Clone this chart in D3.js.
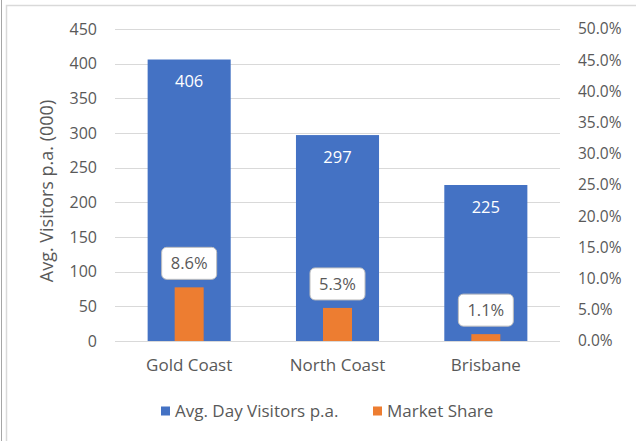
<!DOCTYPE html>
<html>
<head>
<meta charset="utf-8">
<script src="https://cdn.jsdelivr.net/npm/d3@7"></script>
<style>
  body { margin: 0; background: #fff; }
  text { font-family: "Open Sans", "Noto Sans", sans-serif; }
</style>
</head>
<body>
<script>
// Chart data
const regions = ["Gold Coast", "North Coast", "Brisbane"];
const dayVisitors = [406, 297, 225];        // thousands
const marketShare = [0.086, 0.053, 0.011];  // fraction
const leftTicks = [0, 50, 100, 150, 200, 250, 300, 350, 400, 450];
const rightTicks = [0, 0.05, 0.10, 0.15, 0.20, 0.25, 0.30, 0.35, 0.40, 0.45, 0.50];

const width = 636, height = 441;
const margin = { top: 29, right: 76, bottom: 100, left: 115 };
const plotWidth = width - margin.left - margin.right;
const plotHeight = height - margin.top - margin.bottom;

const textColor = "#595959";
const blue = "#4472c4", orange = "#ed7d31";

const svg = d3.select("body")
    .append("svg")
    .attr("width", width)
    .attr("height", height);

// Outer chart border (only top/left visible in frame)
svg.append("line").attr("x1", 1.5).attr("x2", 1.5).attr("y1", 0).attr("y2", height)
    .attr("stroke", "#a6a6a6").attr("stroke-width", 1);
svg.append("rect")
    .attr("x", 6.5).attr("y", 5.5)
    .attr("width", width).attr("height", height)
    .attr("fill", "none").attr("stroke", "#d9d9d9").attr("stroke-width", 1.5);

const g = svg.append("g")
    .attr("transform", `translate(${margin.left},${margin.top})`);

// Scales
const x = d3.scaleBand()
    .domain(regions)
    .range([0, plotWidth])
    .paddingInner(0.44)
    .paddingOuter(0.22);

const yLeft = d3.scaleLinear().domain([0, 450]).range([plotHeight, 0]);
const yRight = d3.scaleLinear().domain([0, 0.5]).range([plotHeight, 0]);

// Gridlines
g.append("g")
    .selectAll("line")
    .data(leftTicks)
    .join("line")
    .attr("x1", 0).attr("x2", plotWidth)
    .attr("y1", d => Math.round(yLeft(d)) + 0.5)
    .attr("y2", d => Math.round(yLeft(d)) + 0.5)
    .attr("stroke", "#d9d9d9")
    .attr("stroke-width", 1);

// Left axis
const leftAxis = g.append("g")
    .call(d3.axisLeft(yLeft).tickValues(leftTicks).tickSize(0).tickPadding(18));
leftAxis.select(".domain").remove();
leftAxis.selectAll("text")
    .attr("fill", textColor)
    .style("font-size", "16px");

// Right axis
const rightAxis = g.append("g")
    .attr("transform", `translate(${plotWidth},0)`)
    .call(d3.axisRight(yRight).tickValues(rightTicks).tickFormat(d3.format(".1%")).tickSize(0).tickPadding(18));
rightAxis.select(".domain").remove();
rightAxis.selectAll("text")
    .attr("fill", textColor)
    .style("font-size", "15.5px");

// Bottom category labels
const xAxis = g.append("g")
    .attr("transform", `translate(0,${plotHeight})`)
    .call(d3.axisBottom(x).tickSize(0).tickPadding(18));
xAxis.select(".domain").remove();
xAxis.selectAll("text")
    .attr("fill", textColor)
    .style("font-size", "17px");

// Left axis title
svg.append("text")
    .attr("transform", `translate(53,${margin.top + plotHeight / 2 + 6}) rotate(-90)`)
    .attr("text-anchor", "middle")
    .attr("fill", textColor)
    .style("font-size", "18px")
    .text("Avg. Visitors p.a. (000)");

// Blue bars
g.selectAll(".bar-visitors")
    .data(regions)
    .join("rect")
    .attr("class", "bar-visitors")
    .attr("x", d => x(d))
    .attr("width", x.bandwidth())
    .attr("y", (d, i) => yLeft(dayVisitors[i]))
    .attr("height", (d, i) => plotHeight - yLeft(dayVisitors[i]))
    .attr("fill", blue);

// Blue bar labels
g.selectAll(".lbl-visitors")
    .data(regions)
    .join("text")
    .attr("class", "lbl-visitors")
    .attr("x", d => x(d) + x.bandwidth() / 2)
    .attr("y", (d, i) => yLeft(dayVisitors[i]) + 22)
    .attr("dy", "0.35em")
    .attr("text-anchor", "middle")
    .attr("fill", "#fff")
    .style("font-size", "16.5px")
    .text((d, i) => dayVisitors[i]);

// Orange bars (secondary axis), narrower and centered
const orangeWidth = 29;
g.selectAll(".bar-share")
    .data(regions)
    .join("rect")
    .attr("class", "bar-share")
    .attr("x", d => x(d) + x.bandwidth() / 2 - orangeWidth / 2)
    .attr("width", orangeWidth)
    .attr("y", (d, i) => yRight(marketShare[i]))
    .attr("height", (d, i) => plotHeight - yRight(marketShare[i]))
    .attr("fill", orange);

// Market share callouts
const boxW = 55, boxH = 32;
const callouts = g.selectAll(".callout")
    .data(regions)
    .join("g")
    .attr("class", "callout")
    .attr("transform", (d, i) =>
        `translate(${x(d) + x.bandwidth() / 2},${yRight(marketShare[i]) - 8 - boxH / 2})`);

callouts.append("rect")
    .attr("x", -boxW / 2).attr("y", -boxH / 2)
    .attr("width", boxW).attr("height", boxH)
    .attr("rx", 5).attr("ry", 5)
    .attr("fill", "#fff")
    .attr("stroke", "#bfbfbf")
    .attr("stroke-width", 1);

callouts.append("text")
    .attr("text-anchor", "middle")
    .attr("dy", "0.35em")
    .attr("fill", textColor)
    .style("font-size", "16.5px")
    .text((d, i) => d3.format(".1%")(marketShare[i]));

// Legend
const legendItems = [
    { label: "Avg. Day Visitors p.a.", color: blue, x: 161 },
    { label: "Market Share", color: orange, x: 373 }
];
const legend = svg.append("g").attr("transform", "translate(0,411)");
legendItems.forEach(item => {
    legend.append("rect")
        .attr("x", item.x).attr("y", -4.5)
        .attr("width", 9).attr("height", 9)
        .attr("fill", item.color);
    legend.append("text")
        .attr("x", item.x + 14)
        .attr("dy", "0.35em")
        .attr("fill", textColor)
        .style("font-size", "17px")
        .text(item.label);
});
</script>
</body>
</html>
